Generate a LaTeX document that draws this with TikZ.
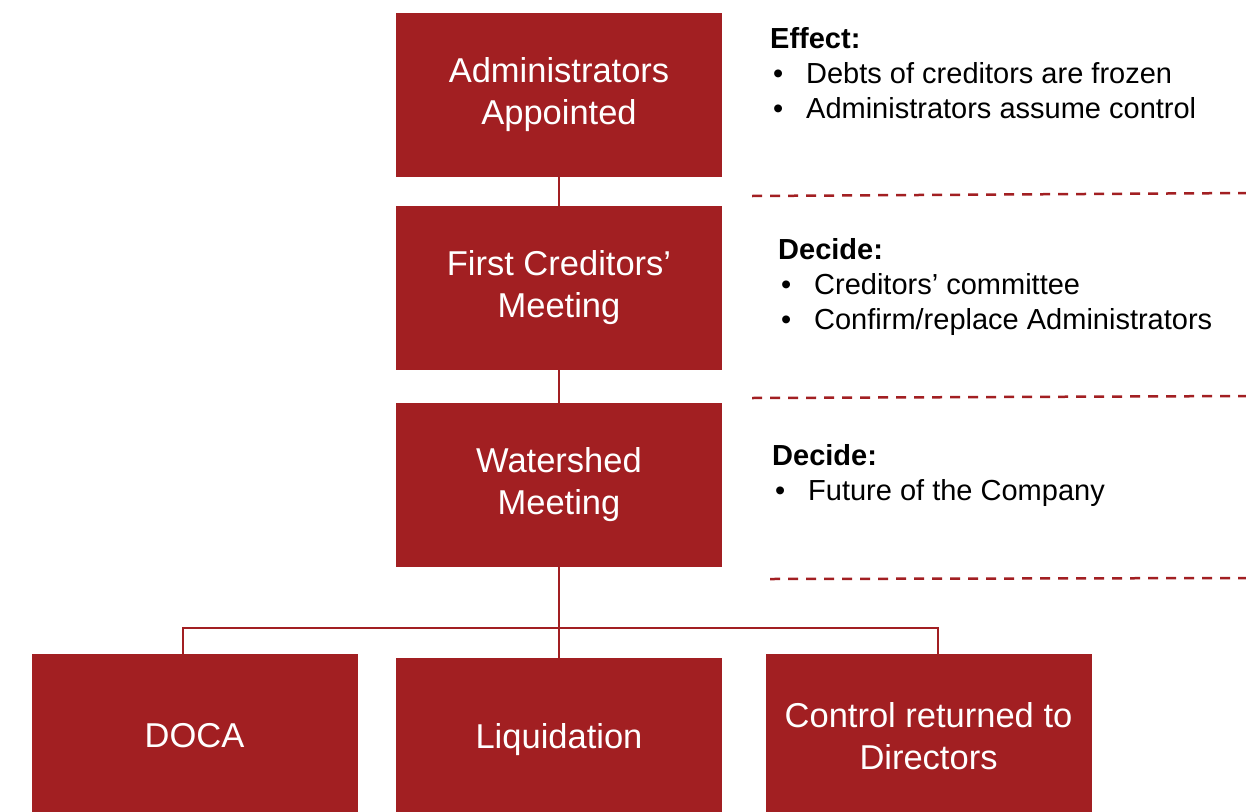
\documentclass[tikz,border=0pt]{standalone}
\usepackage{fontspec}
\setmainfont{Liberation Sans}
\usepackage{tikz}
\usetikzlibrary{calc}
\definecolor{boxred}{RGB}{162,31,34}

\begin{document}
\begin{tikzpicture}[x=1pt,y=-1pt,
    stage/.style={fill=boxred,text=white,minimum width=326pt,minimum height=164pt,inner sep=0pt,align=center,font=\fontsize{34.5}{42}\selectfont},
    link/.style={draw=boxred,line width=2pt},
    divider/.style={draw=boxred,line width=2.5pt,dash pattern=on 10pt off 8pt},
    note/.style={anchor=base west,inner sep=0pt,font=\fontsize{29}{35}\selectfont}]
\clip (0,0) rectangle (1246,811);
\node[stage] (appt) at (559,95) {Administrators\\Appointed};
\node[stage] (cred) at (559,288) {First Creditors'\\Meeting};
\node[stage] (water) at (559,485) {Watershed\\Meeting};
\node[stage] (doca) at (194.5,736) {DOCA};
\node[stage] (liq) at (559,740) {Liquidation};
\node[stage] (ctrl) at (928.5,736) {Control returned to\\Directors};
\coordinate (busL) at (183,628);
\coordinate (busR) at (938,628);
\draw[link] (appt) -- (cred);
\draw[link] (cred) -- (water);
\draw[link] (water) -- (liq);
\draw[link] (doca.north -| busL) -- (busL) -- (busR) -- (ctrl.north -| busR);
\draw[divider] (752,196) -- (1250,193);
\draw[divider] (752,398) -- (1250,396);
\draw[divider] (770,579) -- (1250,578);
\node[note] (effect) at (770,48) {\begin{tabular}[t]{@{\hspace{3pt}}p{33pt}@{}l@{}}
\multicolumn{2}{@{}l@{}}{\textbf{Effect:}}\\
•&Debts of creditors are frozen\\
•&Administrators assume control
\end{tabular}};
\node[note] (decide1) at (778,259) {\begin{tabular}[t]{@{\hspace{3pt}}p{33pt}@{}l@{}}
\multicolumn{2}{@{}l@{}}{\textbf{Decide:}}\\
•&Creditors' committee\\
•&Confirm/replace Administrators
\end{tabular}};
\node[note] (decide2) at (772,465) {\begin{tabular}[t]{@{\hspace{3pt}}p{33pt}@{}l@{}}
\multicolumn{2}{@{}l@{}}{\textbf{Decide:}}\\
•&Future of the Company
\end{tabular}};
\end{tikzpicture}
\end{document}
